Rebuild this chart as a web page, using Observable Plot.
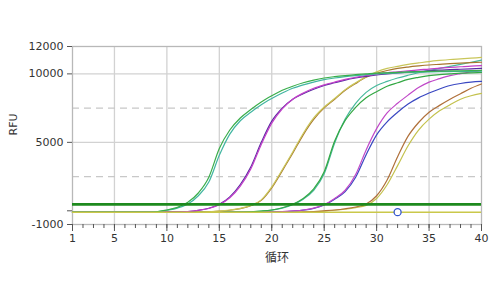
<!DOCTYPE html>
<html>
<head>
<meta charset="utf-8">
<script src="https://cdn.jsdelivr.net/npm/d3@7"></script>
<script src="https://cdn.jsdelivr.net/npm/@observablehq/plot@0.6"></script>
<style>
  html, body { margin: 0; padding: 0; background: #fff; }
</style>
</head>
<body>
<div id="chart"></div>
<script>
const cycles = [1,2,3,4,5,6,7,8,9,10,11,12,13,14,15,16,17,18,19,20,21,22,23,24,25,26,27,28,29,30,31,32,33,34,35,36,37,38,39,40];

const greenA   = [-100,-100,-100,-100,-100,-100,-100,-100,-70,60,250,620,1300,2450,4550,5900,6780,7400,7950,8400,8800,9100,9350,9550,9700,9800,9880,9950,10000,10050,10080,10110,10140,10160,10180,10200,10220,10230,10240,10250];
const tealA    = [-100,-100,-100,-100,-100,-100,-100,-100,-80,40,200,500,1100,2100,4050,5600,6580,7200,7750,8200,8600,8950,9200,9400,9580,9700,9800,9880,9950,10000,10040,10070,10100,10120,10140,10160,10170,10180,10190,10200];
const magentaB = [-100,-100,-100,-100,-100,-100,-100,-100,-100,-100,-100,-50,40,170,450,950,1800,3050,4850,6400,7450,8150,8600,8950,9200,9400,9600,9750,9880,9980,10080,10150,10230,10300,10350,10420,10470,10520,10570,10600];
const purpleB  = [-100,-100,-100,-100,-100,-100,-100,-100,-100,-100,-100,-60,30,190,480,1020,1920,3200,5000,6550,7500,8150,8550,8880,9150,9350,9550,9700,9820,9920,10000,10070,10130,10180,10230,10270,10310,10340,10370,10400];
const oliveC   = [-100,-100,-100,-100,-100,-100,-100,-100,-100,-100,-100,-100,-100,-70,-20,60,180,400,800,1750,3000,4300,5650,6780,7580,8200,8850,9350,9800,10150,10400,10550,10700,10800,10900,10980,11050,11100,11150,11200];
const brownC   = [-100,-100,-100,-100,-100,-100,-100,-100,-100,-100,-100,-100,-100,-80,-30,40,160,370,760,1680,2920,4200,5550,6680,7520,8150,8800,9300,9750,10050,10250,10400,10500,10580,10650,10700,10750,10790,10820,10850];
const greenD   = [-100,-100,-100,-100,-100,-100,-100,-100,-100,-100,-100,-100,-100,-100,-100,-100,-100,-70,-20,60,220,480,900,1600,2850,5100,6600,7550,8250,8700,9100,9350,9600,9750,9870,9950,10000,10050,10080,10100];
const tealD    = [-100,-100,-100,-100,-100,-100,-100,-100,-100,-100,-100,-100,-100,-100,-100,-100,-100,-80,-30,50,200,450,850,1500,2700,4950,6700,7850,8650,9150,9450,9700,9900,10080,10250,10400,10550,10700,10850,11000];
const magentaE = [-100,-100,-100,-100,-100,-100,-100,-100,-100,-100,-100,-100,-100,-100,-100,-100,-100,-100,-100,-100,-60,-10,60,200,450,900,1500,2650,4450,6000,7150,7850,8450,9000,9400,9650,9870,10020,10150,10240];
const blueE    = [-100,-100,-100,-100,-100,-100,-100,-100,-100,-100,-100,-100,-100,-100,-100,-100,-100,-100,-100,-100,-70,-20,50,180,420,850,1400,2450,4100,5550,6500,7200,7800,8250,8600,8900,9150,9300,9400,9450];
const brownF   = [-100,-100,-100,-100,-100,-100,-100,-100,-100,-100,-100,-100,-100,-100,-100,-100,-100,-100,-100,-100,-100,-100,-80,-50,0,60,150,280,500,1100,2250,3950,5450,6450,7200,7700,8150,8550,8950,9260];
const oliveF   = [-100,-100,-100,-100,-100,-100,-100,-100,-100,-100,-100,-100,-100,-100,-100,-100,-100,-100,-100,-100,-100,-100,-90,-60,-20,40,120,230,400,900,1900,3300,4750,5900,6700,7300,7750,8150,8400,8575];

const baselineValue = -100;
const thresholdValue = 470;
const markerCycle = 32;

const xMajorTicks = [1,5,10,15,20,25,30,35,40];
const xGridLines = [5,10,15,20,25,30,35];
const yTicks = [12000,10000,5000,0,-1000];
const yLabelled = [12000,10000,5000,-1000];
const ySolidGrid = [5000,10000];
const yDashedGrid = [2500,7500];

const series = [
  {name: "oliveF", values: oliveF, color: "#c4c24e"},
  {name: "brownF", values: brownF, color: "#b0703a"},
  {name: "blueE", values: blueE, color: "#3a48c2"},
  {name: "magentaE", values: magentaE, color: "#c048c8"},
  {name: "tealD", values: tealD, color: "#46b99c"},
  {name: "greenD", values: greenD, color: "#34a844"},
  {name: "brownC", values: brownC, color: "#a8762e"},
  {name: "oliveC", values: oliveC, color: "#c9c65a"},
  {name: "purpleB", values: purpleB, color: "#5a2aa2"},
  {name: "magentaB", values: magentaB, color: "#c23fc8"},
  {name: "tealA", values: tealA, color: "#42b6a2"},
  {name: "greenA", values: greenA, color: "#3aae4a"}
];

const lineMarks = series.map(s =>
  Plot.line(cycles.map((c, i) => ({cycle: c, value: s.values[i]})),
    {x: "cycle", y: "value", stroke: s.color, strokeWidth: 1.2, curve: "monotone-x"})
);

const chart = Plot.plot({
  width: 500,
  height: 300,
  marginLeft: 72,
  marginRight: 19,
  marginTop: 46,
  marginBottom: 76,
  style: {fontFamily: "DejaVu Sans", fontSize: "11px", color: "#333", background: "#fff"},
  x: {domain: [1, 40]},
  y: {domain: [-1000, 12000]},
  marks: [
    Plot.gridX(xGridLines, {stroke: "#d2d2d2", strokeOpacity: 1, strokeWidth: 1.3}),
    Plot.gridY(ySolidGrid, {stroke: "#d2d2d2", strokeOpacity: 1, strokeWidth: 1.3}),
    Plot.gridY(yDashedGrid, {stroke: "#c8c8c8", strokeOpacity: 1, strokeWidth: 1.3, strokeDasharray: "7,5"}),
    Plot.frame({stroke: "#b8b8b8", strokeWidth: 1.3}),
    ...lineMarks,
    Plot.ruleY([baselineValue], {stroke: "#cac84a", strokeWidth: 1.4}),
    Plot.ruleY([thresholdValue], {stroke: "#1e8a1e", strokeWidth: 2.6}),
    Plot.dot([{cycle: markerCycle, value: baselineValue}], {x: "cycle", y: "value", r: 3.5, stroke: "#3355cc", fill: "white", strokeWidth: 1.3}),
    Plot.axisX(cycles, {tickSize: 4, text: null, stroke: "#555", strokeWidth: 1, label: null}),
    Plot.axisX(xMajorTicks, {tickSize: 7, tickPadding: 3, tickFormat: d => String(d), stroke: "#555", fill: "#333", label: null}),
    Plot.axisY(yTicks, {tickSize: 5, tickPadding: 4, tickFormat: d => yLabelled.includes(d) ? String(d) : "", stroke: "#555", fill: "#333", label: null}),
    Plot.text(["RFU"], {frameAnchor: "left", dx: -59, rotate: -90, fontSize: 11, fill: "#333"}),
    Plot.text(["循环"], {frameAnchor: "bottom", dy: 37, fontSize: 12, fill: "#333", fontFamily: "Noto Sans CJK SC"})
  ]
});

document.getElementById("chart").appendChild(chart);
</script>
</body>
</html>
